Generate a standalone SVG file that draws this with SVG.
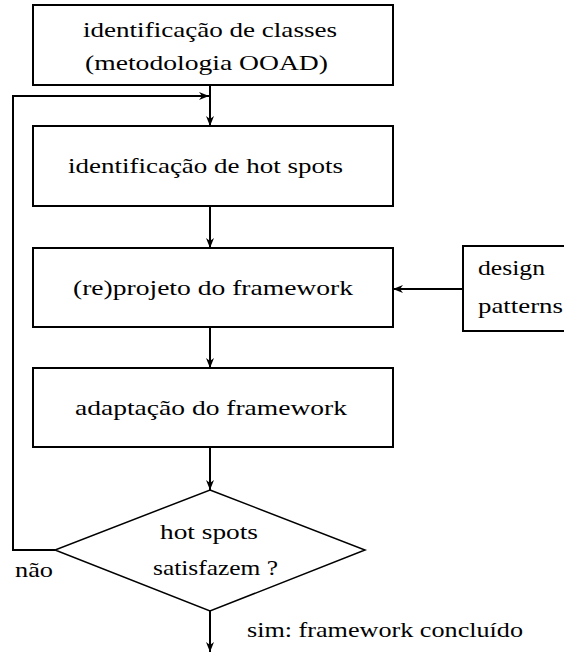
<svg xmlns="http://www.w3.org/2000/svg" width="564" height="652" viewBox="0 0 564 652">
  <style>
    .box { fill: #fff; stroke: #000; stroke-width: 2; }
    .lbl { font-family: "Liberation Serif", "Times New Roman", serif; font-size: 21px; fill: #000; }
    .wire { fill: none; stroke: #000; stroke-width: 2; }
    .dash { fill: #fff; stroke: #000; stroke-width: 1.5; }
  </style>
  <defs>
    <marker id="arrow" viewBox="0 0 10 8" refX="10" refY="4" markerWidth="10" markerHeight="8" markerUnits="userSpaceOnUse" orient="auto">
      <path d="M0,0 L3,4 L0,8 L10,4 Z" fill="#000"/>
    </marker>
  </defs>

  <!-- flow connectors, including the "não" feedback loop -->
  <g id="connectors">
    <line class="wire" x1="210" y1="85" x2="210" y2="126" marker-end="url(#arrow)"/>
    <polyline class="wire" points="55,550 13,550 13,96 209,96" marker-end="url(#arrow)"/>
    <line class="wire" x1="210" y1="206" x2="210" y2="248" marker-end="url(#arrow)"/>
    <line class="wire" x1="463" y1="289" x2="393" y2="289" marker-end="url(#arrow)"/>
    <line class="wire" x1="210" y1="327" x2="210" y2="368" marker-end="url(#arrow)"/>
    <line class="wire" x1="210" y1="447" x2="210" y2="490" marker-end="url(#arrow)"/>
    <line class="wire" x1="210" y1="611" x2="210" y2="652" marker-end="url(#arrow)"/>
  </g>

  <g id="classes">
    <rect class="box" x="33" y="5" width="360" height="80"/>
    <text class="lbl" x="83" y="37" textLength="254" lengthAdjust="spacingAndGlyphs">identificação de classes</text>
    <text class="lbl" x="85" y="70" textLength="243" lengthAdjust="spacingAndGlyphs">(metodologia OOAD)</text>
  </g>

  <g id="hotspots">
    <rect class="box" x="33" y="126" width="360" height="80"/>
    <text class="lbl" x="68" y="173" textLength="275" lengthAdjust="spacingAndGlyphs">identificação de hot spots</text>
  </g>

  <g id="redesign">
    <rect class="box" x="33" y="248" width="360" height="79"/>
    <text class="lbl" x="73" y="295" textLength="280" lengthAdjust="spacingAndGlyphs">(re)projeto do framework</text>
  </g>

  <g id="patterns">
    <rect class="box" x="463" y="246" width="110" height="85"/>
    <text class="lbl" x="478" y="275" textLength="67" lengthAdjust="spacingAndGlyphs">design</text>
    <text class="lbl" x="478" y="313" textLength="85" lengthAdjust="spacingAndGlyphs">patterns</text>
  </g>

  <g id="adaptation">
    <rect class="box" x="33" y="368" width="360" height="79"/>
    <text class="lbl" x="75" y="415" textLength="272" lengthAdjust="spacingAndGlyphs">adaptação do framework</text>
  </g>

  <g id="decision">
    <polygon class="dash" points="210,490 365,550 210,611 55,550"/>
    <text class="lbl" x="160" y="539" textLength="98" lengthAdjust="spacingAndGlyphs">hot spots</text>
    <text class="lbl" x="153" y="575" textLength="125" lengthAdjust="spacingAndGlyphs">satisfazem ?</text>
  </g>

  <g id="labels">
    <text class="lbl" x="15" y="577" textLength="38" lengthAdjust="spacingAndGlyphs">não</text>
    <text class="lbl" x="247" y="637" textLength="276" lengthAdjust="spacingAndGlyphs">sim: framework concluído</text>
  </g>
</svg>
